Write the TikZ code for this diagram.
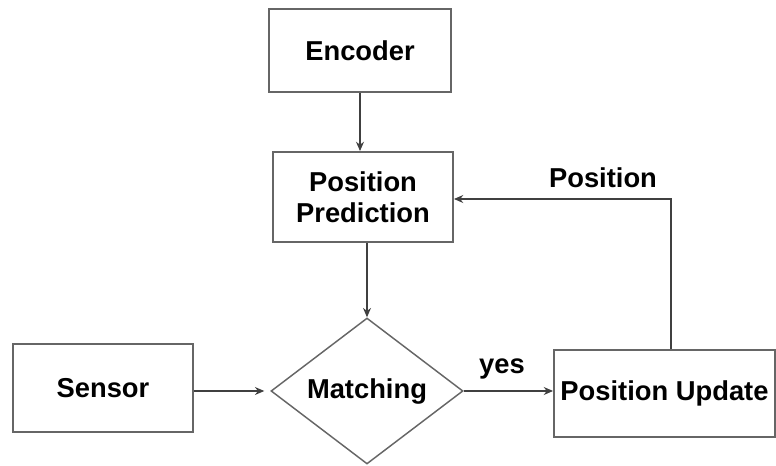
\documentclass[tikz,border=0pt]{standalone}
\usepackage{fontspec}
\setmainfont{Liberation Sans}
\usetikzlibrary{shapes.geometric,arrows.meta}
\begin{document}
\begin{tikzpicture}[x=0.75pt,y=-0.75pt,
  every node/.style={font=\bfseries\fontsize{20.5}{23}\selectfont, text=black},
  blk/.style={draw=black!60, line width=1.4pt, inner sep=0pt, align=center},
  dec/.style={draw=black!60, line width=1.1pt, diamond, inner sep=0pt, minimum width=144pt, minimum height=109.5pt},
  conn/.style={draw=black!75, line width=0.9pt, -{Stealth[length=7pt,width=6pt]}},
  lbl/.style={inner sep=0pt}]
\useasboundingbox (0,0) rectangle (776,466);
\node[blk, minimum width=136.5pt, minimum height=62pt] (enc) at (360,50.5) {Encoder};
\node[blk, minimum width=135pt, minimum height=67.5pt] (pp) at (363,197) {Position\\Prediction};
\node[blk, minimum width=135pt, minimum height=66pt] (sen) at (103,388) {Sensor};
\node[dec] (m) at (367,391) {Matching};
\node[blk, minimum width=165.75pt, minimum height=65.25pt] (pu) at (664.5,393.5) {Position Update};
\coordinate (fb) at (671,199);
\node[lbl] (lpos) at (603,178) {Position};
\node[lbl] (lyes) at (502,369) {yes};
\draw[conn] (enc.south) -- (enc.south |- pp.north);
\draw[conn] (pp.south -| m.north) -- (m.north);
\draw[conn, shorten >=4.5pt] (sen.east |- m.west) -- (m.west);
\draw[conn] (m.east) -- (m.east -| pu.west);
\draw[conn] (pu.north -| fb) -- (fb) -- (pp.east |- fb);
\end{tikzpicture}
\end{document}
